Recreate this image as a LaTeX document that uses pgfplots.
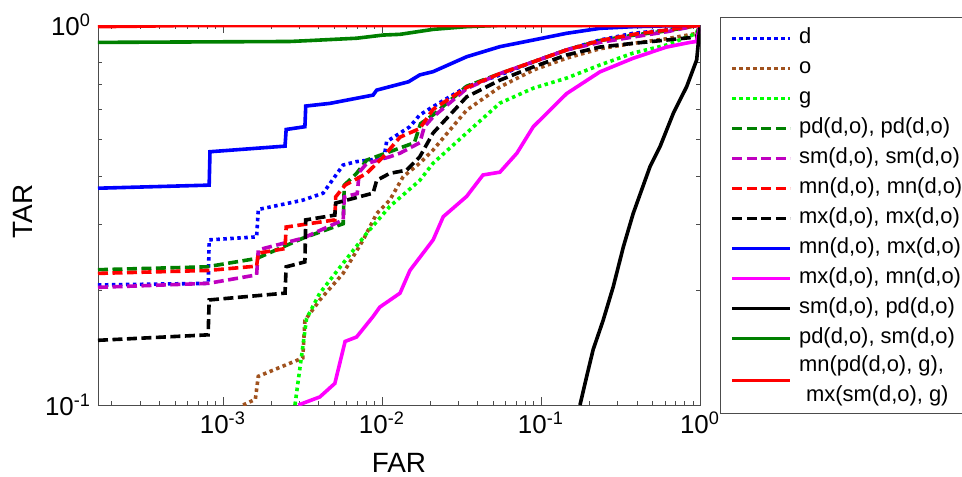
\documentclass[border=0pt]{standalone}
\usepackage{fontspec}
\setmainfont{Liberation Sans}
\usepackage{pgfplots}
\pgfplotsset{compat=1.18}

\definecolor{brn}{RGB}{160,82,30}
\definecolor{dgreen}{RGB}{0,128,0}
\definecolor{dmag}{RGB}{191,0,191}
\definecolor{mag}{RGB}{255,0,255}
\definecolor{lgreen}{RGB}{0,255,0}

\begin{document}
\begin{tikzpicture}
\begin{axis}[
    name=ax,
    xmode=log, ymode=log,
    scale only axis,
    width=301bp, height=190bp,
    xmin=1.64e-4, xmax=1, ymin=0.1, ymax=1,
    xtick={1e-3,1e-2,1e-1,1},
    xticklabels={10\textsuperscript{-3},10\textsuperscript{-2},10\textsuperscript{-1},10\textsuperscript{0}},
    ytick={0.1,1},
    yticklabels={10\textsuperscript{-1},10\textsuperscript{0}},
    minor xtick={2e-4,3e-4,4e-4,5e-4,6e-4,7e-4,8e-4,9e-4,2e-3,3e-3,4e-3,5e-3,6e-3,7e-3,8e-3,9e-3,
                 2e-2,3e-2,4e-2,5e-2,6e-2,7e-2,8e-2,9e-2,0.2,0.3,0.4,0.5,0.6,0.7,0.8,0.9},
    minor ytick={0.2,0.3,0.4,0.5,0.6,0.7,0.8,0.9},
    major tick length=4bp, minor tick length=2bp,
    axis line style={black!70},
    tick style={black!70},
    tick label style={font=\fontsize{13}{15}\selectfont},
    xlabel={FAR}, ylabel={TAR},
    label style={font=\fontsize{14}{16}\selectfont},
    xlabel style={at={(axis description cs:0.5,-0.126)}, anchor=north, inner sep=0pt},
    ylabel style={at={(axis description cs:-0.125,0.51)}, anchor=center, inner sep=0pt},
    legend cell align=left,
    legend image code/.code={\draw[#1] (0bp,0bp) -- (29bp,0bp);},
    legend style={at={(1.0332,1.021)}, anchor=north west, draw=black!70, line width=0.5bp,
        inner xsep=5bp, inner ysep=3bp, row sep=0pt, column sep=3.5bp,
        font=\fontsize{11}{12}\selectfont,
        nodes={inner sep=0pt, text height=10bp, text depth=5bp}},
    every axis plot/.append style={line width=1.8bp},
    dotstyle/.style={dash pattern=on 1.75bp off 1.75bp},
    dashstyle/.style={dash pattern=on 5bp off 2.25bp},
]

% d
\addplot[blue, dotstyle] coordinates {
 (1.64e-4,0.207) (8.1e-4,0.209) (8.2e-4,0.272) (1.63e-3,0.277) (1.67e-3,0.327)
 (3.18e-3,0.346) (4.27e-3,0.361) (5.7e-3,0.428) (6.9e-3,0.437) (1.03e-2,0.446)
 (1.07e-2,0.493) (1.5e-2,0.54) (1.73e-2,0.58) (2.1e-2,0.61) (3.41e-2,0.688)
 (5.52e-2,0.739) (8.95e-2,0.80) (0.145,0.86) (0.235,0.913) (0.381,0.951)
 (0.617,0.97) (1,1)};
\addlegendentry{d}

% o
\addplot[brn, dotstyle] coordinates {
 (1.34e-3,0.1) (1.6e-3,0.1035) (1.67e-3,0.119) (3.18e-3,0.133) (3.28e-3,0.167)
 (4.07e-3,0.189) (5.7e-3,0.222) (7.63e-3,0.272) (9.27e-3,0.319) (1.12e-2,0.346)
 (1.36e-2,0.399) (1.73e-2,0.433) (2.1e-2,0.469) (3.41e-2,0.597) (5.52e-2,0.687)
 (8.95e-2,0.761) (0.145,0.818) (0.235,0.866) (0.381,0.895) (0.617,0.92)
 (0.95,0.95) (1,1)};
\addlegendentry{o}

% g
\addplot[lgreen, dotstyle] coordinates {
 (2.84e-3,0.1) (3.36e-3,0.169) (4.07e-3,0.197) (5.7e-3,0.236) (8.02e-3,0.283)
 (1.12e-2,0.333) (1.73e-2,0.39) (2.1e-2,0.433) (3.41e-2,0.52) (5.52e-2,0.623)
 (8.95e-2,0.682) (0.145,0.725) (0.235,0.785) (0.381,0.844) (0.617,0.886)
 (0.95,0.95) (1,1)};
\addlegendentry{g}

% pd, pd
\addplot[dgreen, dashstyle] coordinates {
 (1.64e-4,0.227) (7.9e-4,0.231) (1.63e-3,0.243) (3.2e-3,0.275) (5.71e-3,0.30)
 (5.8e-3,0.379) (6.93e-3,0.407) (8.02e-3,0.441) (1.12e-2,0.464) (1.6e-2,0.49)
 (1.75e-2,0.55) (2.1e-2,0.58) (3.41e-2,0.69) (5.52e-2,0.745) (8.95e-2,0.80)
 (0.145,0.86) (0.235,0.91) (0.381,0.94) (0.617,0.965) (1,1)};
\addlegendentry{pd(d,o), pd(d,o)}

% sm, sm
\addplot[dmag, dashstyle] coordinates {
 (1.64e-4,0.204) (8.1e-4,0.209) (1.63e-3,0.22) (1.67e-3,0.256) (3.2e-3,0.275)
 (5.71e-3,0.307) (5.8e-3,0.353) (7.0e-3,0.36) (7.2e-3,0.41) (8.02e-3,0.432)
 (1.12e-2,0.45) (1.3e-2,0.46) (1.73e-2,0.49) (1.85e-2,0.54) (2.1e-2,0.573)
 (3.41e-2,0.68) (5.52e-2,0.745) (8.95e-2,0.80) (0.145,0.86) (0.235,0.90)
 (0.381,0.93) (0.617,0.96) (1,1)};
\addlegendentry{sm(d,o), sm(d,o)}

% mn, mn
\addplot[red, dashstyle] coordinates {
 (1.64e-4,0.222) (8.1e-4,0.226) (1.63e-3,0.232) (1.67e-3,0.251) (2.46e-3,0.258)
 (2.5e-3,0.294) (5.06e-3,0.307) (5.12e-3,0.353) (5.87e-3,0.379) (8.02e-3,0.407)
 (1.02e-2,0.45) (1.3e-2,0.507) (1.73e-2,0.534) (2.1e-2,0.60) (3.41e-2,0.685)
 (5.52e-2,0.745) (8.95e-2,0.80) (0.145,0.86) (0.235,0.91) (0.381,0.945)
 (0.617,0.97) (1,1)};
\addlegendentry{mn(d,o), mn(d,o)}

% mx, mx
\addplot[black, dashstyle] coordinates {
 (1.64e-4,0.148) (8.08e-4,0.153) (8.2e-4,0.189) (2.46e-3,0.197) (2.5e-3,0.231)
 (3.28e-3,0.238) (3.32e-3,0.307) (5.06e-3,0.316) (5.12e-3,0.34) (8.8e-3,0.361)
 (9.27e-3,0.39) (1.12e-2,0.407) (1.43e-2,0.415) (1.73e-2,0.45) (2.1e-2,0.52)
 (3.41e-2,0.647) (5.52e-2,0.716) (8.95e-2,0.776) (0.145,0.834) (0.235,0.875)
 (0.381,0.895) (0.617,0.913) (0.95,0.93) (1,1)};
\addlegendentry{mx(d,o), mx(d,o)}

% mn, mx
\addplot[blue] coordinates {
 (1.64e-4,0.372) (8.2e-4,0.379) (8.3e-4,0.464) (2.46e-3,0.48) (2.5e-3,0.531)
 (3.28e-3,0.54) (3.32e-3,0.612) (4.71e-3,0.622) (8.8e-3,0.654) (9.27e-3,0.674)
 (1.47e-2,0.709) (1.73e-2,0.739) (2.1e-2,0.754) (3.41e-2,0.825) (5.52e-2,0.877)
 (8.95e-2,0.913) (0.145,0.951) (0.235,0.98) (0.381,0.99) (1,1)};
\addlegendentry{mn(d,o), mx(d,o)}

% mx, mn
\addplot[mag] coordinates {
 (2.98e-3,0.1) (4.07e-3,0.105) (5.06e-3,0.114) (5.87e-3,0.147) (6.93e-3,0.151)
 (8.8e-3,0.171) (9.7e-3,0.181) (1.3e-2,0.197) (1.5e-2,0.226) (2.1e-2,0.272)
 (2.43e-2,0.313) (3.41e-2,0.354) (4.32e-2,0.403) (5.52e-2,0.41) (7.06e-2,0.46)
 (8.95e-2,0.54) (0.114,0.597) (0.145,0.66) (0.235,0.753) (0.381,0.818)
 (0.617,0.875) (0.865,0.90) (0.95,0.905) (1,1)};
\addlegendentry{mx(d,o), mn(d,o)}

% sm, pd
\addplot[black] coordinates {
 (0.176,0.1) (0.194,0.119) (0.213,0.14) (0.246,0.167) (0.285,0.205) (0.33,0.261)
 (0.38,0.319) (0.485,0.424) (0.56,0.478) (0.68,0.586) (0.824,0.688) (0.953,0.809)
 (1,1)};
\addlegendentry{sm(d,o), pd(d,o)}

% pd, sm
\addplot[dgreen] coordinates {
 (1.64e-4,0.90) (5e-4,0.902) (2.64e-3,0.905) (3.5e-3,0.91) (6.93e-3,0.923)
 (1.02e-2,0.941) (1.3e-2,0.945) (2.1e-2,0.974) (3.41e-2,0.99) (5.52e-2,0.998) (1,1)};
\addlegendentry{pd(d,o), sm(d,o)}

% mn(pd,g), mx(sm,g)
\addplot[red] coordinates {
 (1.64e-4,0.99) (3e-4,0.993) (6e-4,0.997) (1,0.997)};
\addlegendentry[text height=16bp, text depth=11bp]{\raisebox{7.1bp}{\smash{\begin{tabular}[t]{@{}l@{}}mn(pd(d,o), g),\\[3bp]\hspace*{3.5bp}mx(sm(d,o), g)\end{tabular}}}}

\end{axis}
\pgfresetboundingbox
\path[use as bounding box] ([shift={(-49bp,-36bp)}]ax.south west) rectangle ++(481bp,238.5bp);
\end{tikzpicture}
\end{document}
